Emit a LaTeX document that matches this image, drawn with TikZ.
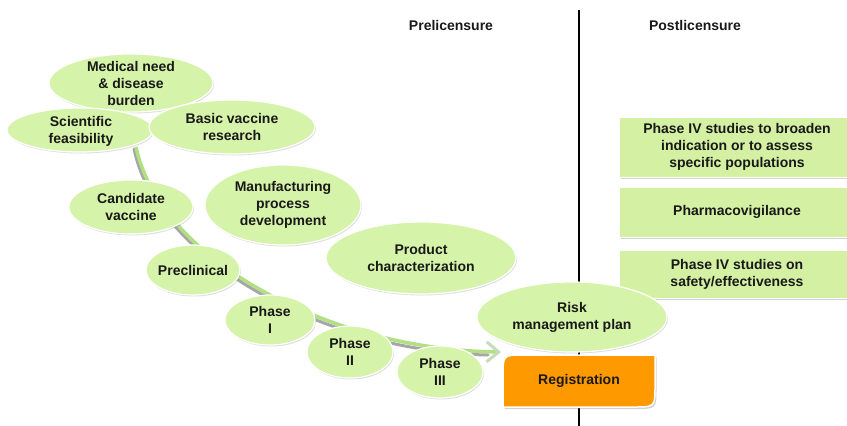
\documentclass[tikz,border=0pt]{standalone}
\usepackage{fontspec}
\setmainfont{Liberation Sans}
\usetikzlibrary{shapes.geometric,shadows,arrows.meta}
\definecolor{egreen}{RGB}{214,243,170}
\definecolor{bgreen}{RGB}{212,240,163}
\definecolor{regorange}{RGB}{255,153,0}
\definecolor{txt}{RGB}{25,25,25}
\definecolor{curvegreen}{RGB}{176,224,130}
\definecolor{tipgreen}{RGB}{196,220,186}
\begin{document}
\begin{tikzpicture}[x=1pt,y=-1pt,
  every node/.style={font=\fontsize{14}{17}\selectfont\bfseries, text=txt, align=center, inner sep=0pt},
  blob/.style={ellipse, fill=egreen, draw=white, line width=1.2pt,
    drop shadow={shadow xshift=1pt, shadow yshift=-1.5pt, opacity=0.25}},
  sidebox/.style={rectangle, fill=bgreen, draw=white, line width=1pt, minimum width=236,
    drop shadow={shadow xshift=1.5pt, shadow yshift=-2pt, opacity=0.35}},
  lbl/.style={}
]
\useasboundingbox (0,0) rectangle (847,426);
\fill[white] (0,0) rectangle (847,426);

% curved flow arrow
\coordinate (cs) at (136,147);
\coordinate (ce) at (501,352);
\coordinate (css) at (134,149);
\coordinate (ces) at (488,355);
\draw[black!35, line width=3pt, line cap=round] (css) .. controls (158,262) and (328,352) .. (ces);
\draw[curvegreen, line width=3.5pt, -{Straight Barb[length=12pt,width=20pt,color=tipgreen,line width=3pt]}] (cs) .. controls (160,260) and (330,350) .. (ce);

% ellipses
\node[blob, minimum width=164, minimum height=58] (med) at (131,83) {};
\node[lbl] (medt) at (med) {Medical need\\\& disease\\burden};
\node[blob, minimum width=146, minimum height=44] (sci) at (80,130) {};
\node[lbl] (scit) at (81,131) {Scientific\\feasibility};
\node[blob, minimum width=166, minimum height=54] (bas) at (232,127) {};
\node[lbl] (bast) at (bas) {Basic vaccine\\research};
\node[blob, minimum width=124, minimum height=54] (cand) at (131,207) {};
\node[lbl] (candt) at (cand) {Candidate\\vaccine};
\node[blob, minimum width=156, minimum height=80] (manu) at (283,205) {};
\node[lbl] (manut) at (manu) {Manufacturing\\process\\development};
\node[blob, minimum width=190, minimum height=72] (prod) at (421,258) {};
\node[lbl] (prodt) at (prod) {Product\\characterization};
\node[blob, minimum width=94, minimum height=50] (prec) at (193,270) {};
\node[lbl] (prect) at (prec) {Preclinical};
\node[blob, minimum width=90, minimum height=50] (ph1) at (270,320) {};
\node[lbl] (ph1t) at (ph1) {Phase\\I};
\node[blob, minimum width=86, minimum height=52] (ph2) at (350,352) {};
\node[lbl] (ph2t) at (ph2) {Phase\\II};
\node[blob, minimum width=86, minimum height=52] (ph3) at (440,372) {};
\node[lbl] (ph3t) at (ph3) {Phase\\III};

% divider
\coordinate (vtop) at (579,10);
\coordinate (vbot) at (579,430);
\draw[black, line width=2pt] (vtop) -- (vbot);

% headers
\node (pre) at (451,25) {Prelicensure};
\node (post) at (695,25) {Postlicensure};

% right boxes
\node[sidebox, minimum height=60] (b1) at (737,147) {Phase IV studies to broaden\\indication or to assess\\specific populations};
\node[sidebox, minimum height=50] (b2) at (737,212) {Pharmacovigilance};
\node[sidebox, minimum height=48] (b3) at (737,274) {Phase IV studies on\\safety/effectiveness};

% risk plan
\node[blob, minimum width=190, minimum height=70] (risk) at (572,317) {};
\node[lbl] (riskt) at (risk) {Risk\\management plan};

% registration
\path[fill=regorange, draw=white, line width=1.5pt,
  drop shadow={shadow xshift=1.5pt, shadow yshift=-2pt, opacity=0.35}]
  (503,407) -- (503,376) .. controls (503,355) .. (524,355) -- (655,355)
  -- (655,386) .. controls (655,407) .. (634,407) -- cycle;
\node (reg) at (579,381) {Registration};
\end{tikzpicture}
\end{document}
